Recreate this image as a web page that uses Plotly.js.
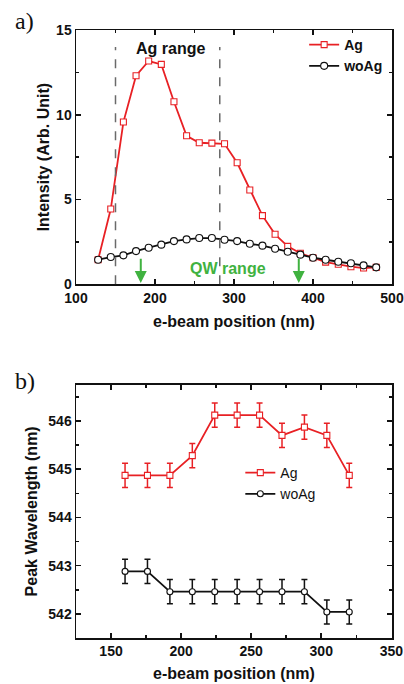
<!DOCTYPE html>
<html>
<head>
<meta charset="utf-8">
<script src="https://cdn.plot.ly/plotly-3.0.1.min.js"></script>
<style>html,body{margin:0;padding:0;background:#fff}#chart{width:404px;height:684px}</style>
</head>
<body>
<div id="chart"></div>
<script>
// Panel a) intensity vs e-beam position
const positionA = [128,144,160,176,192,208,224,240,256,272,288,304,320,336,352,368,384,400,416,432,448,464,480];
const intensityAg = [1.45,4.44,9.57,12.30,13.17,12.97,10.77,8.76,8.35,8.33,8.29,7.17,5.56,4.05,2.95,2.24,1.83,1.57,1.31,1.18,1.04,0.96,1.00];
const intensityWoAg = [1.45,1.61,1.71,1.96,2.16,2.34,2.55,2.65,2.73,2.73,2.63,2.55,2.39,2.28,2.10,1.92,1.75,1.57,1.45,1.33,1.24,1.12,1.00];
const agRangeEdges = [150, 282];
const qwRangeEdges = [182, 382];

// Panel b) peak wavelength vs e-beam position
const positionB = [160,176,192,208,224,240,256,272,288,304,320];
const peakAg = [544.87,544.87,544.87,545.28,546.12,546.12,546.12,545.70,545.87,545.70,544.87];
const peakWoAg = [542.88,542.88,542.46,542.46,542.46,542.46,542.46,542.46,542.46,542.04,542.04];
const errAg = [0.25,0.25,0.25,0.25,0.25,0.25,0.25,0.25,0.25,0.25,0.25];
const errWoAg = [0.25,0.25,0.25,0.25,0.25,0.25,0.25,0.25,0.25,0.25,0.25];

const RED = 'rgb(232,32,36)';
const BLACK = '#111';
const GREEN = 'rgb(64,178,64)';
const GRAY = '#6a6a6a';
const FONT = 'Liberation Sans, Arial, sans-serif';

const traces = [
  {x: positionA, y: intensityAg, name: 'Ag', mode: 'lines+markers', xaxis: 'x', yaxis: 'y', legend: 'legend',
   line: {color: RED, width: 1.8}, marker: {symbol: 'square', size: 6, color: '#fff', line: {color: RED, width: 1.1}}},
  {x: positionA, y: intensityWoAg, name: 'woAg', mode: 'lines+markers', xaxis: 'x', yaxis: 'y', legend: 'legend',
   line: {color: BLACK, width: 1.8}, marker: {symbol: 'circle', size: 7, color: '#fff', line: {color: BLACK, width: 1.1}}},
  {x: positionB, y: peakAg, name: 'Ag', mode: 'lines+markers', xaxis: 'x2', yaxis: 'y2', legend: 'legend2',
   error_y: {type: 'data', array: errAg, visible: true, color: RED, thickness: 1.5, width: 3},
   line: {color: RED, width: 1.8}, marker: {symbol: 'square', size: 6, color: '#fff', line: {color: RED, width: 1.1}}},
  {x: positionB, y: peakWoAg, name: 'woAg', mode: 'lines+markers', xaxis: 'x2', yaxis: 'y2', legend: 'legend2',
   error_y: {type: 'data', array: errWoAg, visible: true, color: BLACK, thickness: 1.5, width: 3},
   line: {color: BLACK, width: 1.8}, marker: {symbol: 'circle', size: 6, color: '#fff', line: {color: BLACK, width: 1.1}}}
];

const tickFont = {family: FONT, size: 14, color: '#111', weight: 'bold'};
const titleFont = {family: FONT, size: 16, color: '#111', weight: 'bold'};
function axisBase(extra) {
  return Object.assign({
    showline: true, linewidth: 1.5, linecolor: '#111', mirror: 'ticks',
    ticks: 'inside', ticklen: 5, tickwidth: 1.5, tickcolor: '#111',
    showgrid: false, zeroline: false, tickfont: tickFont, fixedrange: true
  }, extra);
}

const layout = {
  width: 404, height: 684,
  margin: {l: 76, r: 12, t: 30, b: 46},
  paper_bgcolor: '#fff', plot_bgcolor: '#fff',
  font: {family: FONT, color: '#111'},
  showlegend: true,
  xaxis: axisBase({domain: [0, 1], anchor: 'y', range: [100, 500], dtick: 100, tick0: 100,
    minor: {dtick: 50, ticklen: 3, ticks: 'inside', tickcolor: '#111'},
    title: {text: 'e-beam position (nm)', font: titleFont, standoff: 11}}),
  yaxis: axisBase({domain: [0.5817, 1], anchor: 'x', range: [0, 15], dtick: 5, tick0: 0,
    minor: {dtick: 2.5, ticklen: 3, ticks: 'inside', tickcolor: '#111'},
    title: {text: 'Intensity (Arb. Unit)', font: titleFont, standoff: 2}}),
  xaxis2: axisBase({domain: [0, 1], anchor: 'y2', range: [125, 350.5], dtick: 50, tick0: 150,
    minor: {dtick: 25, ticklen: 3, ticks: 'inside', tickcolor: '#111'},
    title: {text: 'e-beam position (nm)', font: titleFont, standoff: 9}}),
  yaxis2: axisBase({domain: [0, 0.4166], anchor: 'x2', range: [541.5, 546.75], dtick: 1, tick0: 542,
    minor: {dtick: 0.5, ticklen: 3, ticks: 'inside', tickcolor: '#111'},
    title: {text: 'Peak Wavelength (nm)', font: titleFont, standoff: 6}}),
  legend: {x: 0.722, y: 1.0016, xanchor: 'left', yanchor: 'top', bgcolor: 'rgba(0,0,0,0)',
    font: {family: FONT, size: 14, color: '#111', weight: 'bold'}, tracegroupgap: 0, itemwidth: 30},
  legend2: {x: 0.52, y: 0.2977, xanchor: 'left', yanchor: 'top', bgcolor: 'rgba(0,0,0,0)',
    font: {family: FONT, size: 14, color: '#111'}, tracegroupgap: 0, itemwidth: 30},
  shapes: agRangeEdges.map(v => ({type: 'line', xref: 'x', yref: 'y', x0: v, x1: v, y0: 0, y1: 14,
    line: {color: GRAY, width: 1.5, dash: 'dash'}})),
  annotations: [
    {text: 'Ag range', xref: 'x', yref: 'y', x: 219, y: 13.93, showarrow: false,
     font: {family: FONT, size: 16, color: '#111', weight: 'bold'}},
    {text: 'QW range', xref: 'x', yref: 'y', x: 292, y: 0.95, showarrow: false,
     font: {family: FONT, size: 16, color: GREEN, weight: 'bold'}},
    ...qwRangeEdges.map(v => ({text: '', xref: 'x', yref: 'y', x: v, y: 0.08, axref: 'x', ayref: 'y', ax: v, ay: 1.6,
      showarrow: true, arrowhead: 2, arrowsize: 1.2, arrowwidth: 2, arrowcolor: GREEN})),
    {text: 'a)', xref: 'paper', yref: 'paper', x: -0.2, y: 1.015, xanchor: 'left', yanchor: 'middle', showarrow: false,
     font: {family: 'Liberation Serif, Times New Roman, serif', size: 24, color: '#111'}},
    {text: 'b)', xref: 'paper', yref: 'paper', x: -0.2, y: 0.4227, xanchor: 'left', yanchor: 'middle', showarrow: false,
     font: {family: 'Liberation Serif, Times New Roman, serif', size: 24, color: '#111'}}
  ]
};

Plotly.newPlot('chart', traces, layout, {displayModeBar: false, staticPlot: true});
</script>
</body>
</html>
